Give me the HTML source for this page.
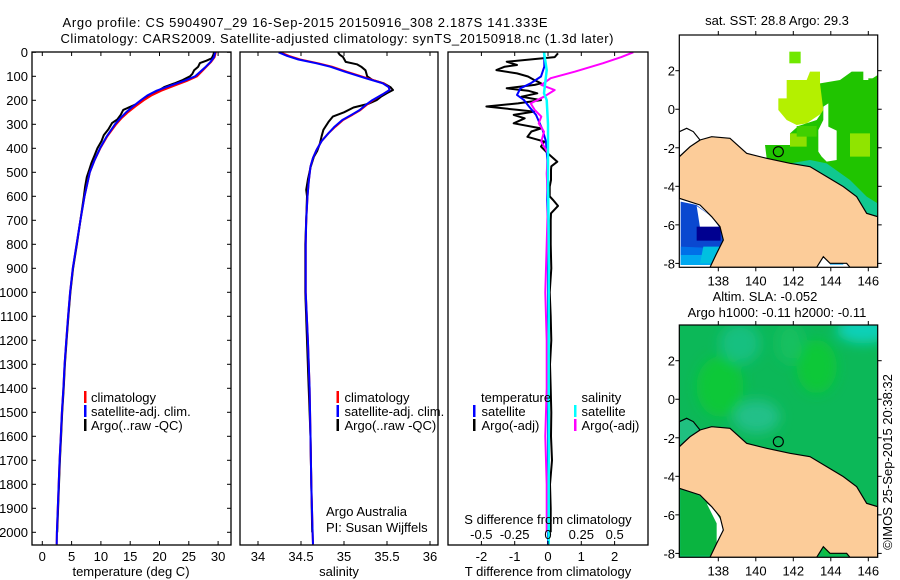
<!DOCTYPE html>
<html><head><meta charset="utf-8">
<style>
html,body{margin:0;padding:0;background:#fff;}
svg{display:block;font-family:"Liberation Sans",sans-serif;font-size:13px;}
</style></head>
<body>
<svg id="fig" width="900" height="580" viewBox="0 0 900 580" xmlns="http://www.w3.org/2000/svg">
<defs>
<filter id="blur" x="-50%" y="-50%" width="200%" height="200%"><feGaussianBlur stdDeviation="18"/></filter>
<clipPath id="clipTop"><rect x="88" y="105" width="595" height="697"/></clipPath>
<clipPath id="clipBot"><rect x="88" y="105" width="595" height="697"/></clipPath>
</defs>
<text x="305" y="27" text-anchor="middle" textLength="485">Argo profile: CS 5904907_29 16-Sep-2015 20150916_308 2.187S 141.333E</text>
<text x="337" y="43" text-anchor="middle" textLength="553">Climatology: CARS2009. Satellite-adjusted climatology: synTS_20150918.nc (1.3d later)</text>
<g id="panels"></g>

<!-- TOP MAP -->
<g>
<text x="777" y="25" text-anchor="middle">sat. SST: 28.8 Argo: 29.3</text>
<g transform="translate(650,0) scale(0.33333)" clip-path="url(#clipTop)">
<rect x="88" y="105" width="595" height="697" fill="#fff"/>
<polygon fill="#b4f000" points="385,295 410,295 410,240 470,240 480,215 510,215 510,250 530,260 530,330 500,350 470,370 440,375 410,360 385,330"/>
<polygon fill="#20c400" points="510,250 570,240 605,215 640,215 640,240 660,240 683,225 683,640 650,640 620,590 580,560 530,530 480,500 420,490 350,475 345,435 420,435 420,400 445,378 500,360 520,330"/>
<polygon fill="#8ee000" points="420,400 470,400 470,440 420,440"/>
<polygon fill="#90e400" points="600,400 660,400 660,470 600,470"/>
<polygon fill="#40d000" points="440,378 500,378 500,410 440,410"/>
<polygon fill="#fff" points="520,320 535,310 535,380 560,392 560,480 530,485 515,470 505,455 505,390 520,360"/>
<polygon fill="#10c890" points="420,490 480,480 530,490 600,540 650,590 683,610 683,650 650,640 620,590 580,560 530,530 480,500"/>
<rect x="418" y="155" width="34" height="35" fill="#70e800"/>
<rect x="655" y="235" width="28" height="35" fill="#20c400"/>
<polygon fill="#0a48d0" points="92,605 140,615 185,650 210,680 222,720 205,760 185,795 92,795"/>
<polygon fill="#fff" points="140,618 185,650 208,682 150,682"/>
<rect x="140" y="680" width="72" height="42" fill="#000090"/>
<polygon fill="#0070e8" points="92,740 210,745 200,770 92,770"/>
<polygon fill="#00a8f0" points="92,765 200,765 185,795 92,795"/>
<polygon fill="#00c0e0" points="160,740 215,740 200,790 150,790"/>
<rect x="540" y="782" width="40" height="12" fill="#10a8f0"/>
<polygon fill="#fccc99" stroke="#000" stroke-width="3.5" points="88,470 120,440 150,420 185,410 240,415 290,460 350,475 420,490 480,500 530,530 580,560 620,590 650,640 683,650 683,802 600,802 590,790 540,790 520,770 500,802 180,802 200,760 220,720 210,680 185,650 150,615 88,595"/>
<polygon fill="#fff" stroke="#000" stroke-width="3.5" points="88,395 110,385 130,395 150,420 120,440 88,470"/>
<circle cx="385" cy="455" r="15" fill="none" stroke="#000" stroke-width="3.5"/>
</g>
<rect x="679.3" y="35" width="198.4" height="232.3" fill="none" stroke="#000" stroke-width="1.2"/>
<g id="topMapAxes"></g>
</g>

<!-- BOTTOM MAP -->
<g>
<text x="765" y="301" text-anchor="middle">Altim. SLA: -0.052</text>
<text x="777" y="317" text-anchor="middle">Argo h1000: -0.11 h2000: -0.11</text>
<g transform="translate(650,290) scale(0.33333)" clip-path="url(#clipBot)">
<rect x="88" y="105" width="595" height="697" fill="#0cb858"/>
<g filter="url(#blur)">
<ellipse cx="640" cy="120" rx="80" ry="40" fill="#10d0b8"/>
<ellipse cx="210" cy="290" rx="70" ry="90" fill="#10c838"/>
<ellipse cx="500" cy="230" rx="60" ry="80" fill="#10c838"/>
<ellipse cx="320" cy="380" rx="70" ry="50" fill="#20c088"/>
<ellipse cx="270" cy="160" rx="60" ry="60" fill="#18c080"/>
<ellipse cx="420" cy="160" rx="40" ry="60" fill="#14c060"/>
</g>
<polygon fill="#0ab440" points="92,600 140,615 185,650 210,680 222,720 205,760 185,795 92,795"/>
<polygon fill="#fff" points="170,640 190,655 212,690 222,720 205,760 200,760 200,700 185,670"/>
<polygon fill="#10c040" points="520,770 560,760 600,770 640,790 520,795"/>
<polygon fill="#fccc99" stroke="#000" stroke-width="3.5" points="88,470 120,440 150,420 185,410 240,415 290,460 350,475 420,490 480,500 530,530 580,560 620,590 650,640 683,650 683,802 600,802 590,790 540,790 520,770 500,802 180,802 200,760 220,720 210,680 185,650 150,615 88,595"/>
<polygon fill="#20c080" stroke="#000" stroke-width="3.5" points="88,395 110,385 130,395 150,420 120,440 88,470"/>
<circle cx="385" cy="455" r="15" fill="none" stroke="#000" stroke-width="3.5"/>
</g>
<rect x="679.3" y="325" width="198.4" height="232.3" fill="none" stroke="#000" stroke-width="1.2"/>
<g id="botMapAxes"></g>
</g>
<text transform="translate(892,462) rotate(-90)" text-anchor="middle">©IMOS 25-Sep-2015 20:38:32</text>
</svg>
<script>
// ---------- Temperature panel data ----------
const tDepthClim = [0,20,40,60,80,100,120,140,160,180,200,225,250,275,300,350,400,450,500,600,700,800,900,1000,1100,1200,1300,1400,1500,1600,1700,1800,1900,2000,2050];
const tClim = [29.6,29.4,28.8,28.0,27.2,26.4,24.6,22.4,20.3,18.6,17.3,15.9,14.6,13.5,12.6,11.1,9.9,8.9,8.1,7.2,6.5,5.85,5.2,4.75,4.4,4.1,3.8,3.6,3.35,3.15,2.95,2.8,2.65,2.5,2.45];
const tSat = [29.5,29.3,28.7,27.9,27.0,26.1,24.1,21.7,19.5,17.9,16.8,15.5,14.3,13.3,12.4,11.0,9.85,8.9,8.1,7.2,6.5,5.85,5.2,4.75,4.4,4.1,3.8,3.6,3.35,3.15,2.95,2.8,2.65,2.5,2.45];
const tDepthArgo = [0,10,25,35,45,60,75,90,100,115,130,145,160,175,190,210,225,240,260,280,295,320,345,370,400,430,460,490,520,560,600,700,800,900,1000,1100,1200,1300,1400,1500,1600,1700,1800,1900,2000];
const tArgo = [29.3,29.2,28.9,28.0,26.9,26.6,25.9,25.6,25.2,24.0,22.5,20.8,19.8,18.5,17.4,16.6,15.2,13.8,13.4,12.8,11.9,11.3,10.5,10.1,9.4,8.9,8.4,8.0,7.6,7.3,7.1,6.5,5.9,5.25,4.8,4.45,4.15,3.85,3.65,3.4,3.2,3.0,2.85,2.7,2.55];
const tTicks = [0,5,10,15,20,25,30];
// ---------- Salinity panel data ----------
const sDepthClim = [0,15,30,46,60,81,108,129,145,157,175,199,220,241,260,282,310,337,370,407,440,476,540,600,700,800,1000,1200,1400,1600,1800,2000,2050];
const sClim = [34.26,34.36,34.49,34.70,34.86,35.03,35.27,35.46,35.52,35.53,35.45,35.34,35.26,35.19,35.10,34.99,34.90,34.82,34.74,34.68,34.64,34.61,34.59,34.575,34.56,34.555,34.555,34.58,34.6,34.61,34.62,34.635,34.64];
const sSat = [34.24,34.34,34.47,34.68,34.84,35.01,35.25,35.45,35.52,35.53,35.45,35.33,35.25,35.18,35.09,34.98,34.89,34.82,34.74,34.68,34.64,34.61,34.59,34.575,34.56,34.555,34.555,34.58,34.6,34.61,34.62,34.635,34.64];
const sDepthArgo = [0,10,20,40,50,60,75,100,115,129,145,157,170,185,199,215,230,250,268,290,323,350,380,410,435,480,530,573,600,700,800,1000,1200,1400,1600,1800,2000];
const sArgo = [34.93,34.95,34.99,35.02,35.15,35.20,35.25,35.27,35.33,35.46,35.54,35.57,35.50,35.43,35.38,35.28,35.11,35.0,34.87,34.82,34.76,34.74,34.72,34.69,34.65,34.61,34.58,34.56,34.57,34.56,34.55,34.55,34.57,34.59,34.61,34.62,34.63];
const sTicks = [34,34.5,35,35.5,36];
// ---------- Difference panel data ----------
const dDepthArgoT = [4,20,39,53,60,74,88,101,115,129,136,150,160,171,185,199,213,226,240,247,261,275,296,317,330,352,372,393,421,456,475,490,532,560,600,615,640,671,700,800,900,1000,1100,1200,1300,1400,1500,1600,1700,1800,1900,2000];
const dArgoT = [0.30,0.2,-1.24,-0.93,-1.3,-1.55,-0.93,-0.6,-0.42,-0.21,-0.4,-1.24,-0.6,-0.32,-0.8,-0.21,-0.9,-1.85,-0.9,-0.42,-1.03,-0.7,-1.03,-0.21,-0.5,-0.62,-0.11,-0.21,-0.01,0.28,0.1,0.09,0.09,0.05,0.05,0.15,0.3,0.09,0.08,0.08,0.1,0.05,0.08,0.1,0.06,0.08,0.1,0.09,0.12,0.06,0.08,0.08];
const dDepthSatT = [0,60,101,129,150,178,199,226,261,324,372,449,615,800,1200,1600,2000,2050];
const dSatT = [-0.11,-0.11,-0.21,-0.52,-0.83,-0.93,-0.72,-0.57,-0.36,-0.16,-0.06,-0.02,-0.02,0.0,0.0,0.0,0.0,0.0];
const dDepthSatS = [0,74,171,199,300,500,800,1200,1600,2000,2050];
const dSatS = [-0.03,-0.01,-0.03,-0.01,0.0,0.0,0.005,0.005,0.005,0.005,0.005];
const dDepthArgoS = [0,20,46,81,108,136,157,185,213,240,268,296,331,372,421,505,615,800,1000,1200,1400,1600,1800,2000];
const dArgoS = [0.64,0.55,0.41,0.2,0.02,-0.05,0.05,-0.03,-0.13,-0.1,-0.05,-0.07,-0.03,-0.05,-0.0,-0.01,-0.0,-0.01,-0.02,-0.01,-0.01,-0.02,-0.01,-0.01];
const dTTicks = [-2,-1,0,1,2];
const dSTicks = [-0.5,-0.25,0,0.25,0.5];
const depthTicks = [0,100,200,300,400,500,600,700,800,900,1000,1100,1200,1300,1400,1500,1600,1700,1800,1900,2000];
// ---------- Map axes ----------
const latTicks = [2,0,-2,-4,-6,-8];
const lonTicks = [138,140,142,144,146];

const NS = "http://www.w3.org/2000/svg";
const P = document.getElementById('panels');
function el(tag, attrs, parent, txt){
  const e = document.createElementNS(NS, tag);
  for (const k in attrs) e.setAttribute(k, attrs[k]);
  if (txt !== undefined) e.textContent = txt;
  (parent||P).appendChild(e);
  return e;
}
const yD = d => 52.3 + d*0.24;
const xT = t => 42.3 + t*5.86;
const xS = s => 258 + (s-34)*86;
const xDT = v => 548 + v*33.3;
const xDS = v => 548 + v*133.3;
const PT = 52, PB = 545;
const boxes = [[32,231,'temperature-panel'],[240,438,'salinity-panel'],[448,648,'difference-panel']];

function series(depths, vals, xf, color, name, w){
  const d = depths.map((dd,i)=>(i?'L':'M')+xf(vals[i]).toFixed(1)+','+yD(dd).toFixed(1)).join(' ');
  const p = el('path',{d:d,fill:'none',stroke:color,'stroke-width':w||2,'stroke-linejoin':'round'});
  
  
  return p;
}

depthTicks.forEach(d=>{
  const t = el('text',{x:28,y:yD(d)+4.5,'text-anchor':'end'},P,String(d));
  
  
  el('line',{x1:32,x2:36,y1:yD(d),y2:yD(d),stroke:'#000','stroke-width':1});
  el('line',{x1:227,x2:231,y1:yD(d),y2:yD(d),stroke:'#000','stroke-width':1});
});

series(tDepthArgo,tArgo,xT,'#000','argo-temperature-line');
series(tDepthClim,tClim,xT,'#f00','climatology-temperature-line');
series(tDepthClim,tSat,xT,'#00f','satellite-temperature-line');
tTicks.forEach(v=>{
  el('line',{x1:xT(v),x2:xT(v),y1:PT,y2:PT+4,stroke:'#000'});
  el('line',{x1:xT(v),x2:xT(v),y1:PB,y2:PB-4,stroke:'#000'});
  const t = el('text',{x:xT(v),y:PB+16,'text-anchor':'middle'},P,String(v));
  
  
});
series(sDepthArgo,sArgo,xS,'#000','argo-salinity-line');
series(sDepthClim,sClim,xS,'#f00','climatology-salinity-line');
series(sDepthClim,sSat,xS,'#00f','satellite-salinity-line');
sTicks.forEach(v=>{
  el('line',{x1:xS(v),x2:xS(v),y1:PT,y2:PT+4,stroke:'#000'});
  el('line',{x1:xS(v),x2:xS(v),y1:PB,y2:PB-4,stroke:'#000'});
  const t = el('text',{x:xS(v),y:PB+16,'text-anchor':'middle'},P,String(v));
  
  
});
series(dDepthArgoT,dArgoT,xDT,'#000','argo-temperature-difference-line');
series(dDepthSatT,dSatT,xDT,'#00f','satellite-temperature-difference-line');
series(dDepthArgoS,dArgoS,xDS,'#f0f','argo-salinity-difference-line');
series(dDepthSatS,dSatS,xDS,'#0ff','satellite-salinity-difference-line',2.5);
dTTicks.forEach(v=>{
  el('line',{x1:xDT(v),x2:xDT(v),y1:PT,y2:PT+4,stroke:'#000'});
  el('line',{x1:xDT(v),x2:xDT(v),y1:PB,y2:PB-4,stroke:'#000'});
  const t = el('text',{x:xDT(v),y:PB+16,'text-anchor':'middle'},P,String(v));
  
  
});
dSTicks.forEach(v=>{
  const t = el('text',{x:xDS(v),y:539,'text-anchor':'middle'},P,String(v));
  
  
});

boxes.forEach(b=>{
  const r = el('rect',{x:b[0],y:PT,width:b[1]-b[0],height:PB-PT,fill:'none',stroke:'#000','stroke-width':1.3});
  
  
});

[['temperature (deg C)',131,'temperature-axis-title'],['salinity',339,'salinity-axis-title'],['T difference from climatology',548,'t-difference-axis-title']].forEach(a=>{
  const t = el('text',{x:a[1],y:576,'text-anchor':'middle'},P,a[0]);
  
  
});
const sdt = el('text',{x:548,y:524,'text-anchor':'middle'},P,'S difference from climatology');


const aa = el('text',{x:326,y:516},P,'Argo Australia');


const pi = el('text',{x:326,y:532},P,'PI: Susan Wijffels');



function legendEntry(bx, tx, y, color, label){
  if (color) el('rect',{x:bx,y:y-11,width:2.5,height:12,fill:color});
  const t = el('text',{x:tx,y:y},P,label);
  
  
}
[[84,91],[336.5,344.5]].forEach(p=>{
  legendEntry(p[0],p[1],402,'#f00','climatology');
  legendEntry(p[0],p[1],416,'#00f','satellite-adj. clim.');
  legendEntry(p[0],p[1],430,'#000','Argo(..raw -QC)');
});
legendEntry(0,481,402,null,'temperature');
legendEntry(473,481.5,416,'#00f','satellite');
legendEntry(473,481.5,430,'#000','Argo(-adj)');
legendEntry(0,581.5,402,null,'salinity');
legendEntry(574,581.5,416,'#0ff','satellite');
legendEntry(574,581.5,430,'#f0f','Argo(-adj)');

function mapAxes(gid, top, bottom){
  const g = document.getElementById(gid);
  const latY = v => top + 35.7 + (2-v)*19.27;
  const lonX = v => 718.3 + (v-138)*18.75;
  latTicks.forEach(v=>{
    el('line',{x1:675.3,x2:679.3,y1:latY(v),y2:latY(v),stroke:'#000'},g);
    el('line',{x1:877.7,x2:881.7,y1:latY(v),y2:latY(v),stroke:'#000'},g);
    const t = el('text',{x:675,y:latY(v)+5,'text-anchor':'end'},g,String(v));
    
    
  });
  lonTicks.forEach(v=>{
    el('line',{x1:lonX(v),x2:lonX(v),y1:top-4,y2:top,stroke:'#000'},g);
    el('line',{x1:lonX(v),x2:lonX(v),y1:bottom,y2:bottom+4,stroke:'#000'},g);
    const t = el('text',{x:lonX(v),y:bottom+18,'text-anchor':'middle'},g,String(v));
    
    
  });
}
mapAxes('topMapAxes',35,267.3);
mapAxes('botMapAxes',325,557.3);
</script>
</body></html>
